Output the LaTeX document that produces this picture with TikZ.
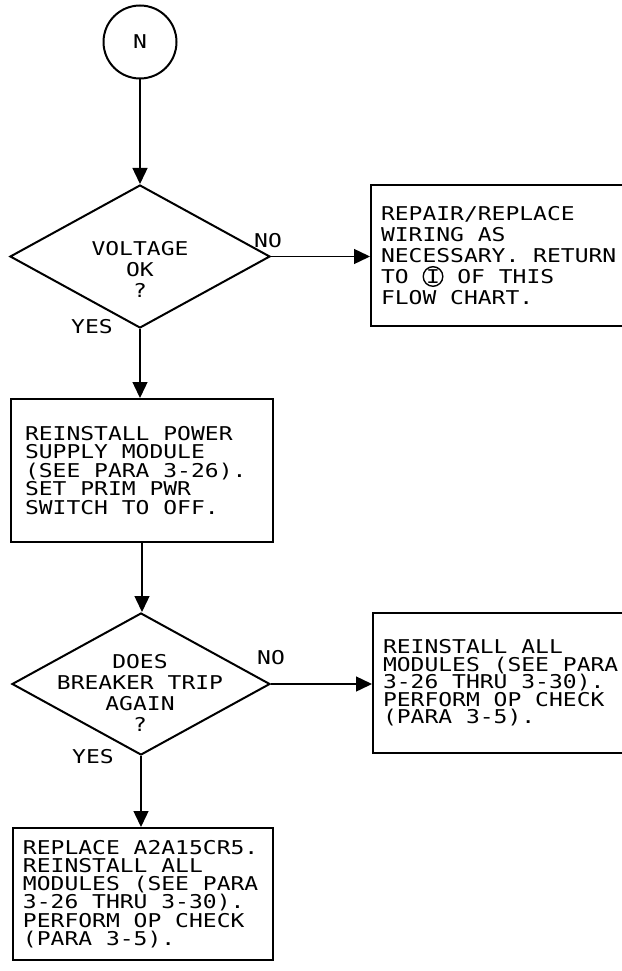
\documentclass[tikz,border=0pt]{standalone}
\usepackage{fontspec}
\setmainfont{DejaVu Sans Mono}[FakeStretch=1.21]
\usetikzlibrary{arrows.meta, positioning, shapes.geometric}
\newcommand{\ringI}{\tikz[baseline=(ri.base)]\node[draw, circle, line width=1.4pt, inner sep=0pt, minimum size=18pt] (ri) {I};}

\begin{document}
\begin{tikzpicture}[x=1pt, y=-1pt, font=\fontsize{19}{21}\selectfont, >={Triangle[length=16pt, width=15pt]},
    box/.style={draw, line width=2pt, align=flush left, anchor=west, inner ysep=0pt, font=\fontsize{19}{#1}\selectfont},
    box/.default=18.5,
    decision/.style={draw, diamond, line width=2pt, inner sep=0pt},
    flow/.style={->, line width=1.4pt},
    lbl/.style={inner sep=0pt, align=center}
  ]
  \useasboundingbox (0,0) rectangle (621,971);

  \node[circle, draw, line width=2pt, minimum size=73pt, inner sep=0pt] (N) at (140,42) {N};

  % first test
  \node[decision, minimum width=260pt, minimum height=143pt] (volt) at (140,256.5) {};
  \node[lbl] (volttxt) at (140,269) {VOLTAGE\\OK\\?};
  \node[lbl] (voltno) at (268,241) {NO};
  \node[lbl] (voltyes) at (92,327) {YES};
  \node[box=21, text width=280pt, inner xsep=10pt, minimum height=141pt] (wiring) at (370,255.5)
    {REPAIR/REPLACE\\WIRING AS\\NECESSARY. RETURN\\TO \ringI{} OF THIS\\FLOW CHART.};

  \node[box, text width=234pt, inner xsep=14pt, minimum height=143pt] (psu) at (10,470.5)
    {REINSTALL POWER\\SUPPLY MODULE\\(SEE PARA 3-26).\\SET PRIM PWR\\SWITCH TO OFF.};

  % second test
  \node[decision, minimum width=258pt, minimum height=142pt] (trip) at (141,684) {};
  \node[lbl] (triptxt) at (140,693) {DOES\\BREAKER TRIP\\AGAIN\\?};
  \node[lbl] (tripno) at (271,658) {NO};
  \node[lbl] (tripyes) at (93,757) {YES};
  \node[box=17.5, text width=280pt, inner xsep=10pt, minimum height=140pt] (allmod) at (372,683)
    {REINSTALL ALL\\MODULES (SEE PARA\\3-26 THRU 3-30).\\PERFORM OP CHECK\\(PARA 3-5).};
  \node[box=18.3, text width=240pt, inner xsep=10pt, minimum height=132pt] (cr5) at (12,894)
    {REPLACE~A2A15CR5.\\REINSTALL ALL\\MODULES~(SEE~PARA\\3-26~THRU~3-30).\\PERFORM~OP~CHECK\\(PARA 3-5).};

  \draw[flow] (N) -- (volt);
  \draw[flow] (volt.east) -- (volt.east -| wiring.west);
  \draw[flow] (volt.south) -- (volt.south |- psu.north);
  \draw[flow] (psu.south) -- (psu.south |- trip.north);
  \draw[flow] (trip.east) -- (trip.east -| allmod.west);
  \draw[flow] (trip.south) -- (trip.south |- cr5.north);
\end{tikzpicture}
\end{document}
